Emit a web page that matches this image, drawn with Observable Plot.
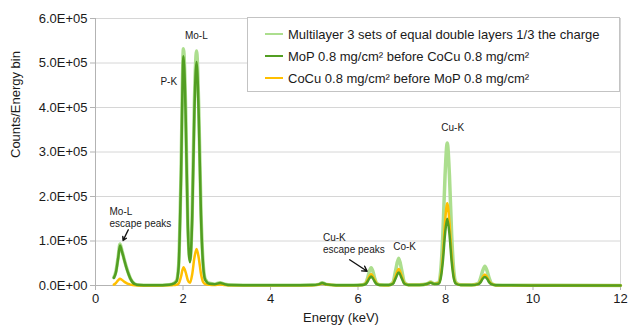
<!DOCTYPE html>
<html>
<head>
<meta charset="utf-8">
<script src="https://cdn.jsdelivr.net/npm/d3@7"></script>
<script src="https://cdn.jsdelivr.net/npm/@observablehq/plot@0.6"></script>
<style>
  html, body { margin: 0; padding: 0; background: #fff; }
  #wrap { position: relative; width: 628px; height: 327px; font-family: "Liberation Sans", Arial, sans-serif; }
  #legend { position: absolute; left: 247px; top: 17px; width: 373px; height: 75px; border: 1px solid #c3c3c3; background: #fff; box-sizing: border-box; }
  .row { position: absolute; left: 17px; height: 16px; display: flex; align-items: center; font-size: 13px; color: #1a1a1a; white-space: nowrap; }
  .sw { width: 18px; height: 0; border-top: 2.5px solid; margin-right: 5px; }
</style>
</head>
<body>
<div id="wrap"><div id="legend"></div></div>
<script>
// Energy (keV) sample positions
const energy = [0.42,0.47,0.52,0.56,0.60,0.65,0.70,0.75,0.80,0.90,1.00,1.20,1.40,1.60,1.75,1.85,1.90,1.95,2.01,2.06,2.11,2.16,2.21,2.26,2.31,2.36,2.41,2.46,2.51,2.60,2.72,2.85,2.95,3.10,3.50,4.00,4.50,4.95,5.10,5.18,5.28,5.50,5.90,6.10,6.17,6.22,6.26,6.30,6.34,6.38,6.43,6.50,6.70,6.80,6.86,6.93,7.00,7.06,7.15,7.40,7.58,7.66,7.74,7.84,7.89,7.94,7.99,8.04,8.09,8.14,8.19,8.24,8.35,8.60,8.75,8.80,8.85,8.90,8.95,9.00,9.05,9.15,9.50,10.5,12.0];

// Multilayer 3 sets of equal double layers 1/3 the charge
const multilayer = [0.18e5,0.33e5,0.66e5,0.93e5,0.80e5,0.61e5,0.43e5,0.28e5,0.15e5,0.035e5,0.01e5,0.004e5,0.006e5,0.012e5,0.03e5,0.10e5,0.45e5,2.30e5,5.32e5,4.00e5,1.40e5,0.58e5,1.60e5,4.10e5,5.27e5,4.00e5,1.70e5,0.50e5,0.14e5,0.05e5,0.03e5,0.06e5,0.03e5,0.01e5,0.006e5,0.005e5,0.006e5,0.01e5,0.025e5,0.06e5,0.025e5,0.008e5,0.008e5,0.015e5,0.05e5,0.17e5,0.32e5,0.40e5,0.32e5,0.17e5,0.05e5,0.015e5,0.01e5,0.07e5,0.34e5,0.61e5,0.34e5,0.07e5,0.015e5,0.015e5,0.04e5,0.08e5,0.04e5,0.07e5,0.33e5,1.16e5,2.48e5,3.20e5,2.48e5,1.16e5,0.33e5,0.07e5,0.015e5,0.012e5,0.05e5,0.16e5,0.33e5,0.43e5,0.33e5,0.16e5,0.05e5,0.01e5,0.005e5,0.003e5,0.002e5];

// MoP 0.8 mg/cm² before CoCu 0.8 mg/cm²
const mopFirst = [0.17e5,0.31e5,0.63e5,0.90e5,0.78e5,0.60e5,0.42e5,0.27e5,0.15e5,0.03e5,0.01e5,0.004e5,0.006e5,0.012e5,0.03e5,0.09e5,0.42e5,2.20e5,5.15e5,3.85e5,1.32e5,0.52e5,1.50e5,3.90e5,5.02e5,3.80e5,1.60e5,0.45e5,0.12e5,0.04e5,0.03e5,0.055e5,0.03e5,0.01e5,0.006e5,0.005e5,0.006e5,0.01e5,0.025e5,0.055e5,0.025e5,0.008e5,0.008e5,0.012e5,0.03e5,0.09e5,0.16e5,0.20e5,0.16e5,0.09e5,0.03e5,0.012e5,0.01e5,0.04e5,0.16e5,0.29e5,0.16e5,0.04e5,0.012e5,0.012e5,0.035e5,0.06e5,0.035e5,0.04e5,0.16e5,0.55e5,1.16e5,1.50e5,1.16e5,0.55e5,0.16e5,0.04e5,0.01e5,0.01e5,0.03e5,0.07e5,0.15e5,0.19e5,0.15e5,0.07e5,0.03e5,0.008e5,0.004e5,0.002e5,0.002e5];

// CoCu 0.8 mg/cm² before MoP 0.8 mg/cm²
const cocuFirst = [0.02e5,0.06e5,0.12e5,0.15e5,0.13e5,0.09e5,0.06e5,0.035e5,0.02e5,0.005e5,0.002e5,0.001e5,0.002e5,0.004e5,0.008e5,0.015e5,0.04e5,0.18e5,0.41e5,0.30e5,0.12e5,0.06e5,0.25e5,0.62e5,0.82e5,0.62e5,0.27e5,0.08e5,0.03e5,0.015e5,0.01e5,0.02e5,0.01e5,0.005e5,0.003e5,0.003e5,0.004e5,0.006e5,0.02e5,0.045e5,0.02e5,0.006e5,0.006e5,0.012e5,0.04e5,0.12e5,0.21e5,0.26e5,0.21e5,0.12e5,0.04e5,0.012e5,0.008e5,0.05e5,0.21e5,0.37e5,0.21e5,0.05e5,0.012e5,0.012e5,0.035e5,0.065e5,0.035e5,0.05e5,0.20e5,0.68e5,1.43e5,1.85e5,1.43e5,0.68e5,0.20e5,0.05e5,0.01e5,0.01e5,0.035e5,0.09e5,0.19e5,0.25e5,0.19e5,0.09e5,0.035e5,0.008e5,0.004e5,0.002e5,0.002e5];

const seriesNames = ["Multilayer 3 sets of equal double layers 1/3 the charge", "MoP 0.8 mg/cm² before CoCu 0.8 mg/cm²", "CoCu 0.8 mg/cm² before MoP 0.8 mg/cm²"];
const seriesColors = ["#acde8e", "#529e22", "#ffbf00"];
const yTicks = [0, 1e5, 2e5, 3e5, 4e5, 5e5, 6e5];
const xTicks = [0, 2, 4, 6, 8, 10, 12];

// Peak annotations
const peakLabels = ["Mo-L", "P-K", "Cu-K", "Co-K"];
const peakX = [2.305, 1.674, 8.165, 7.064];
const peakY = [5.61e5, 4.57e5, 3.54e5, 0.86e5];
const escLabels = ["Mo-L\nescape peaks", "Cu-K\nescape peaks"];
const escX = [0.321, 5.2];
const escY = [1.528e5, 0.955e5];
const arrowX1 = [0.75, 5.81], arrowY1 = [1.252e5, 0.578e5];
const arrowX2 = [0.63, 6.21], arrowY2 = [1.011e5, 0.321e5];

const series = [multilayer, mopFirst, cocuFirst];
const rows = series.map((vals, s) => energy.map((e, i) => ({energy: e, counts: vals[i], series: seriesNames[s]})));

function sci(d) {
  if (d === 0) return "0.0E+00";
  const e = Math.floor(Math.log10(d));
  return (d / Math.pow(10, e)).toFixed(1) + "E+" + String(e).padStart(2, "0");
}

const peaks = peakLabels.map((t, i) => ({t, x: peakX[i], y: peakY[i]}));
const escs = escLabels.map((t, i) => ({t, x: escX[i], y: escY[i]}));
const arrows = arrowX1.map((x1, i) => ({x1, y1: arrowY1[i], x2: arrowX2[i], y2: arrowY2[i]}));

const chart = Plot.plot({
  width: 628,
  height: 327,
  marginLeft: 95,
  marginRight: 8,
  marginTop: 18,
  marginBottom: 42,
  style: {fontFamily: "Liberation Sans, Arial, sans-serif", fontSize: "13px", color: "#1a1a1a", background: "white"},
  x: {domain: [0, 12]},
  y: {domain: [0, 6e5]},
  marks: [
    Plot.gridY(yTicks, {stroke: "#d6d6d6", strokeOpacity: 1}),
    Plot.ruleX([12], {stroke: "#d6d6d6"}),
    Plot.ruleX([0], {stroke: "#b3b3b3"}),
    Plot.ruleY([0], {stroke: "#b3b3b3"}),
    Plot.axisY(yTicks, {tickFormat: sci, tickSize: 5, tickPadding: 3, stroke: "#b3b3b3", fill: "#1a1a1a", fontSize: 13, label: null}),
    Plot.axisX(xTicks, {tickFormat: d => String(d), tickSize: 5, tickPadding: 3, stroke: "#b3b3b3", fill: "#1a1a1a", fontSize: 13, label: null}),
    Plot.text(["Counts/Energy bin"], {frameAnchor: "left", dx: -80, dy: 6, rotate: -90, fontSize: 13, fill: "#1a1a1a"}),
    Plot.text(["Energy (keV)"], {frameAnchor: "bottom", dy: 36, dx: -17, fontSize: 13, fill: "#1a1a1a"}),
    Plot.line(rows[0], {x: "energy", y: "counts", stroke: seriesColors[0], strokeWidth: 3.5, curve: "monotone-x"}),
    Plot.line(rows[2], {x: "energy", y: "counts", stroke: seriesColors[2], strokeWidth: 2.5, curve: "monotone-x"}),
    Plot.line(rows[1], {x: "energy", y: "counts", stroke: seriesColors[1], strokeWidth: 2.5, curve: "monotone-x"}),
    Plot.text(peaks, {x: "x", y: "y", text: "t", fontSize: 10, fill: "#1a1a1a"}),
    Plot.text(escs, {x: "x", y: "y", text: "t", fontSize: 10, textAnchor: "start", lineHeight: 1.2, fill: "#1a1a1a"}),
    Plot.arrow(arrows, {x1: "x1", y1: "y1", x2: "x2", y2: "y2", stroke: "#111", strokeWidth: 1.4, headLength: 6})
  ]
});
document.getElementById("wrap").prepend(chart);

const legend = document.getElementById("legend");
const rowTops = [8, 30, 52];
seriesNames.forEach((name, i) => {
  const r = document.createElement("div");
  r.className = "row";
  r.style.top = rowTops[i] + "px";
  const sw = document.createElement("span");
  sw.className = "sw";
  sw.style.borderTopColor = seriesColors[i];
  r.appendChild(sw);
  r.appendChild(document.createTextNode(name));
  legend.appendChild(r);
});
</script>
</body>
</html>
